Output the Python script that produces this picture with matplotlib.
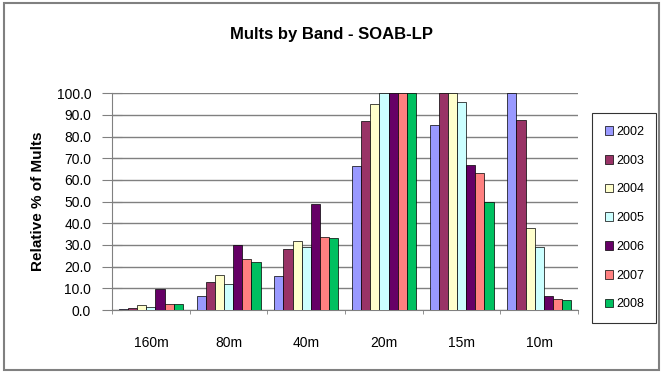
import numpy as np
import matplotlib
matplotlib.use("Agg")
import matplotlib.pyplot as plt
from matplotlib.patches import Rectangle

plt.rcParams["font.family"] = ["Liberation Sans", "DejaVu Sans"]

bands = ["160m", "80m", "40m", "20m", "15m", "10m"]
years = ["2002", "2003", "2004", "2005", "2006", "2007", "2008"]
colors = ["#9999FF", "#993366", "#FFFFCC", "#CCFFFF", "#660066", "#FF8080", "#00C060"]

# relative % of mults per band, one list per year
y2002 = [0.5, 6.5, 15.7, 66.5, 85.5, 100.0]
y2003 = [1.0, 13.0, 28.0, 87.0, 100.0, 87.5]
y2004 = [2.5, 16.0, 32.0, 95.0, 100.0, 37.7]
y2005 = [1.5, 12.0, 29.0, 100.0, 96.0, 29.2]
y2006 = [9.5, 30.0, 49.0, 100.0, 67.0, 6.5]
y2007 = [3.0, 23.5, 33.5, 100.0, 63.0, 5.0]
y2008 = [3.0, 22.3, 33.0, 100.0, 50.0, 4.6]
series = [y2002, y2003, y2004, y2005, y2006, y2007, y2008]

fig = plt.figure(figsize=(6.63, 3.74), dpi=100)
fig.patch.set_facecolor("white")
fig.patches.append(Rectangle((0.006, 0.01), 0.988, 0.982, transform=fig.transFigure,
                             fill=False, edgecolor="#808080", linewidth=1.5))

ax = fig.add_axes([0.169, 0.171, 0.703, 0.580])
x = np.arange(len(bands))
n = len(years)
group = 7 / 8.5
w = group / n
for i, (vals, c, yr) in enumerate(zip(series, colors, years)):
    ax.bar(x - group / 2 + w * (i + 0.5), vals, width=w, color=c,
           edgecolor="black", linewidth=0.5, label=yr, zorder=3)

ax.set_xlim(-0.5, len(bands) - 0.5)
ax.set_ylim(0, 100)
ax.set_yticks(np.arange(0, 101, 10))
ax.set_yticklabels([f"{v:.1f}" for v in np.arange(0, 101, 10)], fontsize=10)
ax.set_xticks(x)
ax.set_xticklabels(bands, fontsize=10)
ax.set_xticks(np.arange(-0.5, len(bands), 1), minor=True)
ax.tick_params(axis="x", which="major", length=0, pad=19)
ax.tick_params(axis="x", which="minor", length=3, color="#808080")
ax.tick_params(axis="y", direction="inout", length=14, color="#808080", pad=8)
ax.yaxis.grid(True, color="#808080", linewidth=1.0, zorder=0)
for side in ["top", "right"]:
    ax.spines[side].set_visible(False)
for side in ["left", "bottom"]:
    ax.spines[side].set_color("#808080")
ax.set_ylabel("Relative % of Mults", fontsize=11, fontweight="bold", labelpad=8)

fig.text(0.5, 0.908, "Mults by Band - SOAB-LP", ha="center", va="center",
         fontsize=12, fontweight="bold")

leg = ax.legend(loc="center left", bbox_to_anchor=(1.03, 0.424), fontsize=9,
                frameon=True, fancybox=False, edgecolor="black",
                handlelength=0.7, handleheight=0.7, handletextpad=0.2,
                labelspacing=1.34, borderpad=1.0, borderaxespad=0)
leg.get_frame().set_linewidth(0.8)

fig.savefig("out.png", dpi=100)
